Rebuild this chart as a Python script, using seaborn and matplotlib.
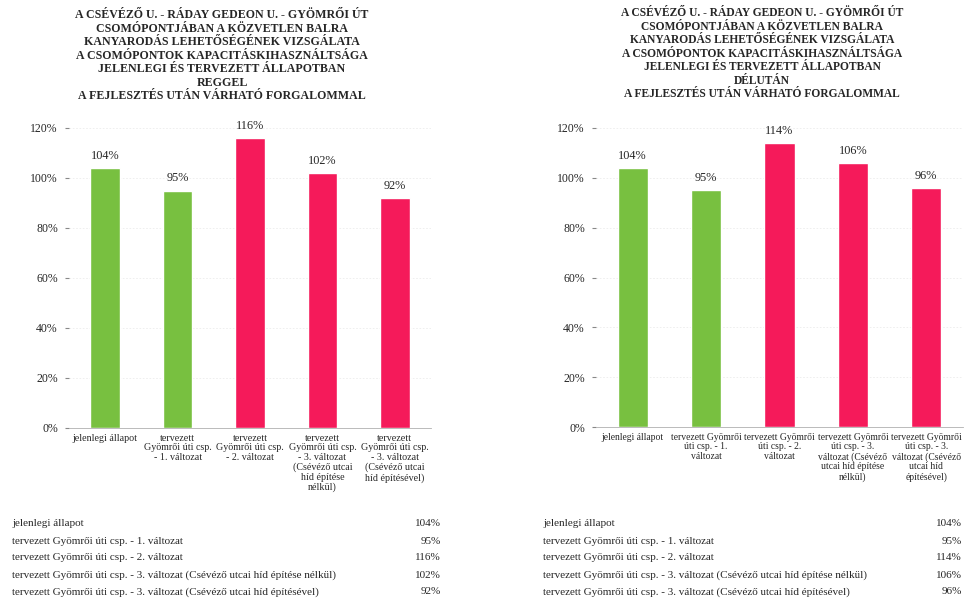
import matplotlib
matplotlib.use("Agg")
import matplotlib.pyplot as plt
import seaborn as sns
import pandas as pd
from matplotlib.ticker import FuncFormatter

sns.set_style("white")
plt.rcParams['font.family'] = ['Liberation Serif', 'DejaVu Serif']

# ---- data ----
row_labels = [
    "jelenlegi állapot",
    "tervezett Gyömrői úti csp. - 1. változat",
    "tervezett Gyömrői úti csp. - 2. változat",
    "tervezett Gyömrői úti csp. - 3. változat (Csévéző utcai híd építése nélkül)",
    "tervezett Gyömrői úti csp. - 3. változat (Csévéző utcai híd építésével)",
]
morning_values = [104, 95, 116, 102, 92]
evening_values = [104, 95, 114, 106, 96]

morning_ticks = [
    "jelenlegi állapot",
    "tervezett\nGyömrői úti csp.\n- 1. változat",
    "tervezett\nGyömrői úti csp.\n- 2. változat",
    "tervezett\nGyömrői úti csp.\n- 3. változat\n(Csévéző utcai\nhíd építése\nnélkül)",
    "tervezett\nGyömrői úti csp.\n- 3. változat\n(Csévéző utcai\nhíd építésével)",
]
evening_ticks = [
    "jelenlegi állapot",
    "tervezett Gyömrői\núti csp. - 1.\nváltozat",
    "tervezett Gyömrői\núti csp. - 2.\nváltozat",
    "tervezett Gyömrői\núti csp. - 3.\nváltozat (Csévéző\nutcai híd építése\nnélkül)",
    "tervezett Gyömrői\núti csp. - 3.\nváltozat (Csévéző\nutcai híd\népítésével)",
]
bar_colors = ["#78c040", "#78c040", "#f51a5a", "#f51a5a", "#f51a5a"]

title_common = ("A CSÉVÉZŐ U. - RÁDAY GEDEON U. - GYÖMRŐI ÚT\n"
                "CSOMÓPONTJÁBAN A KÖZVETLEN BALRA\n"
                "KANYARODÁS LEHETŐSÉGÉNEK VIZSGÁLATA\n"
                "A CSOMÓPONTOK KAPACITÁSKIHASZNÁLTSÁGA\n"
                "JELENLEGI ÉS TERVEZETT ÁLLAPOTBAN\n")
morning_title = title_common + "REGGEL\nA FEJLESZTÉS UTÁN VÁRHATÓ FORGALOMMAL"
evening_title = title_common + "DÉLUTÁN\nA FEJLESZTÉS UTÁN VÁRHATÓ FORGALOMMAL"

W, H = 964, 598
fig = plt.figure(figsize=(W / 100, H / 100), dpi=100)


def px(x0, y_bottom, x1, y_top):
    return [x0 / W, 1 - y_bottom / H, (x1 - x0) / W, (y_bottom - y_top) / H]


def draw(ax, values, ticks, tick_fs):
    df = pd.DataFrame({"cat": list(range(len(values))), "val": values})
    sns.barplot(data=df, x="cat", y="val", hue="cat", palette=bar_colors,
                legend=False, width=0.41, ax=ax, saturation=1)
    ax.set_ylim(0, 120)
    ax.set_xlim(-0.5, len(values) - 0.5)
    ax.set_yticks([0, 20, 40, 60, 80, 100, 120])
    ax.yaxis.set_major_formatter(FuncFormatter(lambda v, p: f"{int(v)}%"))
    ax.set_xticks(range(len(values)))
    ax.set_xticklabels(ticks, fontsize=tick_fs, linespacing=1.1, va="top")
    ax.set_xlabel("")
    ax.set_ylabel("")
    ax.grid(axis="y", color="#ececec", linewidth=0.6, linestyle=(0, (2, 2)))
    ax.set_axisbelow(True)
    for s in ["top", "right", "left"]:
        ax.spines[s].set_visible(False)
    ax.spines["bottom"].set_color("#b0b0b0")
    ax.spines["bottom"].set_linewidth(0.6)
    ax.spines["bottom"].set_linestyle((0, (3, 1)))
    ax.tick_params(axis="y", labelsize=8.5, length=3, color="#888888", pad=5, left=True)
    ax.tick_params(axis="x", length=0, pad=4)
    for i, v in enumerate(values):
        ax.text(i, v + 2.5, f"{v}%", ha="center", va="bottom", fontsize=8.8,
                clip_on=False)


ax1 = fig.add_axes(px(69, 428, 431, 128))
draw(ax1, morning_values, morning_ticks, 7.2)
ax2 = fig.add_axes(px(596, 427, 963, 128))
draw(ax2, evening_values, evening_ticks, 6.9)

fig.text(222 / W, 1 - 9 / H, morning_title, ha="center", va="top",
         fontsize=8.6, fontweight="bold", linespacing=1.17)
fig.text(762 / W, 1 - 7 / H, evening_title, ha="center", va="top",
         fontsize=8.3, fontweight="bold", linespacing=1.17)

row_y = [523, 541, 558, 575, 592]
for lab, mv, ev, y in zip(row_labels, morning_values, evening_values, row_y):
    fig.text(12 / W, 1 - y / H, lab, ha="left", va="center", fontsize=8.0)
    fig.text(441 / W, 1 - y / H, f"{mv}%", ha="right", va="center", fontsize=8.0)
    fig.text(543 / W, 1 - y / H, lab, ha="left", va="center", fontsize=8.0)
    fig.text(962 / W, 1 - y / H, f"{ev}%", ha="right", va="center", fontsize=8.0)

fig.savefig("out.png", dpi=100)
